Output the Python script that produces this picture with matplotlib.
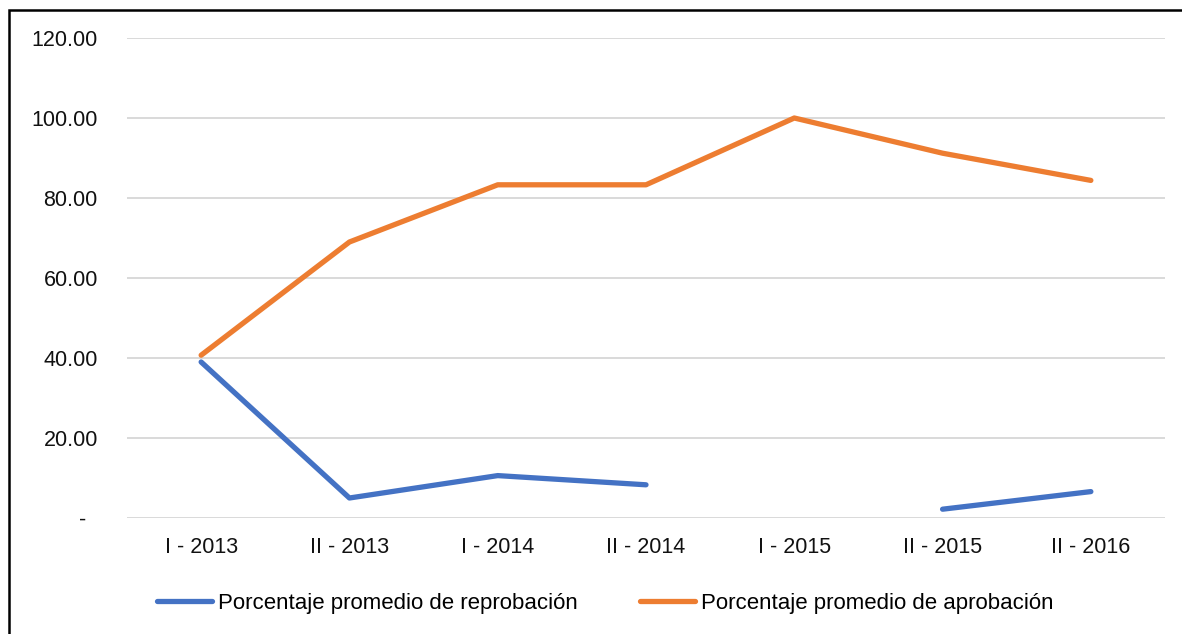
import numpy as np
import matplotlib.pyplot as plt
from matplotlib.lines import Line2D
from matplotlib.patches import Rectangle

periodos = ['I - 2013', 'II - 2013', 'I - 2014', 'II - 2014', 'I - 2015', 'II - 2015', 'II - 2016']
reprobacion = [39.0, 5.0, 10.6, 8.3, np.nan, 2.2, 6.6]
aprobacion = [40.7, 69.0, 83.3, 83.3, 100.0, 91.2, 84.4]
y_ticks = [0, 20, 40, 60, 80, 100, 120]

azul = '#4472C4'
naranja = '#ED7D31'

plt.rcParams['font.family'] = ['Liberation Sans', 'DejaVu Sans']

fig = plt.figure(figsize=(11.82, 6.34), dpi=100)
ax = fig.add_axes([127/1182, 1 - 518/634, (1165 - 127)/1182, (518 - 38)/634])

x = np.arange(len(periodos))
ax.plot(x, reprobacion, color=azul, lw=3.8, solid_capstyle='round', solid_joinstyle='round')
ax.plot(x, aprobacion, color=naranja, lw=3.8, solid_capstyle='round', solid_joinstyle='round')

ax.set_xlim(-0.5, len(periodos) - 0.5)
ax.set_ylim(0, 120)
ax.set_yticks(y_ticks)
# formato contable: el cero se muestra como guion
ax.set_yticklabels(['-  ' if v == 0 else f'{v:.2f}' for v in y_ticks], fontsize=15.5, color='#111')
ax.set_xticks(x)
ax.set_xticklabels(periodos, fontsize=15.5, color='#111')
ax.tick_params(length=0)
ax.tick_params(axis='x', pad=14)
ax.tick_params(axis='y', pad=21)
ax.grid(axis='y', color='#d9d9d9', lw=1.4)
ax.set_axisbelow(True)
for s in ax.spines.values():
    s.set_visible(False)

handles = [Line2D([], [], color=azul, lw=3.8, solid_capstyle='round'),
           Line2D([], [], color=naranja, lw=3.8, solid_capstyle='round')]
fig.legend(handles, ['Porcentaje promedio de reprobación', 'Porcentaje promedio de aprobación'],
           loc='center', bbox_to_anchor=(605/1182, 1 - 603/634), ncol=2, frameon=False,
           fontsize=16, handlelength=2.5, handletextpad=0.25, columnspacing=2.8)

# marco exterior del grafico
fig.patches.append(Rectangle((9/1182, -0.1), 1.2, 1 - 10/634 + 0.1, transform=fig.transFigure,
                             fill=False, edgecolor='black', lw=1.8))

fig.savefig('out.png', dpi=100)
